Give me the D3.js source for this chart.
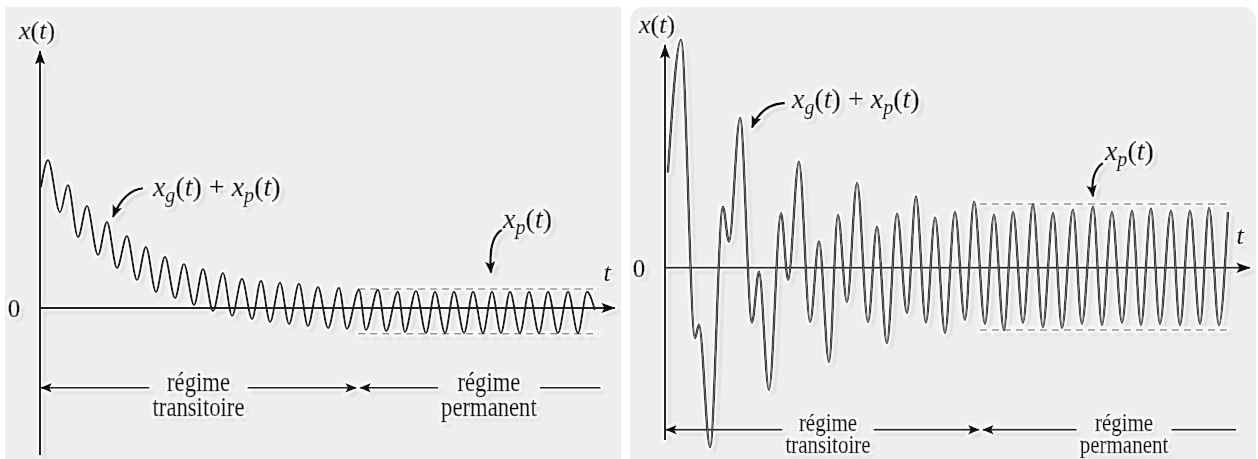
<!DOCTYPE html>
<html>
<head>
<meta charset="utf-8">
<script src="https://cdn.jsdelivr.net/npm/d3@7"></script>
<style>
  html, body { margin: 0; padding: 0; background: #fff; }
  svg { display: block; }
  svg text { font-family: 'Liberation Serif', 'DejaVu Serif', serif; stroke: #111; stroke-width: 0.45px; }
</style>
</head>
<body>
<svg id="chart" width="1258" height="459"></svg>
<script>
// extrema of the left curve (t in periods, x in steady-amplitude units)
const leftT = [0.05, 0.41, 1.03, 1.44, 1.96, 2.42, 2.99, 3.45, 3.97, 4.48, 5.00, 5.46, 5.98, 6.44, 6.96, 7.42,
  7.94, 8.40, 8.92, 9.43, 9.90, 10.41, 10.93, 11.39, 11.86, 12.37, 12.84, 13.35, 13.81, 14.33, 14.85, 15.41,
  15.82, 16.44, 16.80, 17.42, 17.84, 18.45, 18.81, 19.38, 19.90, 20.36, 20.88, 21.34, 21.86, 22.32, 22.84,
  23.30, 23.76, 24.23, 24.74, 25.21, 25.72, 26.19, 26.70, 27.22, 27.73, 28.20, 28.60]
const leftX = [5.50, 6.73, 4.36, 5.59, 3.23, 4.64, 2.41, 3.91, 1.82, 3.27, 1.27, 2.77, 0.73, 2.32, 0.45, 2.00,
  0.14, 1.77, -0.14, 1.59, -0.36, 1.32, -0.50, 1.23, -0.64, 1.14, -0.73, 1.09, -0.82, 0.95, -0.91, 0.91,
  -0.95, 0.82, -1.00, 0.82, -1.05, 0.73, -1.09, 0.77, -1.14, 0.73, -1.14, 0.73, -1.14, 0.73, -1.14,
  0.73, -1.14, 0.73, -1.14, 0.73, -1.14, 0.73, -1.14, 0.73, -1.14, 0.73, -0.10]

// extrema of the right curve
const rightT = [0.15, 0.82, 1.54, 1.74, 2.31, 2.97, 3.28, 3.85, 4.46, 4.82, 5.33, 5.95, 6.31, 6.87, 7.44,
  7.90, 8.41, 8.87, 9.33, 9.85, 10.41, 10.87, 11.38, 11.90, 12.41, 12.87, 13.38, 13.85, 14.36, 14.87,
  15.38, 15.85, 16.41, 16.87, 17.38, 17.85, 18.36, 18.87, 19.38, 19.90, 20.36, 20.92, 21.38, 21.95, 22.41,
  22.92, 23.44, 23.95, 24.41, 24.92, 25.38, 25.95, 26.41, 26.92, 27.44, 27.90, 28.41, 28.87]
const rightX = [1.67, 4.00, -1.23, -1.00, -3.14, 1.07, 0.46, 2.63, -0.96, -0.07, -2.14, 0.96, -0.21, 1.86, -0.95,
  0.46, -1.65, 0.93, -0.60, 1.49, -0.95, 0.72, -1.32, 0.95, -0.79, 1.25, -0.96, 0.88, -1.14, 0.98,
  -0.91, 1.16, -0.98, 0.93, -1.09, 0.98, -0.96, 1.11, -1.04, 0.96, -1.05, 1.02, -0.98, 1.07, -1.00,
  0.98, -0.96, 1.00, -1.00, 1.04, -0.98, 1.00, -1.00, 1.00, -0.98, 1.05, -1.00, 0.98]

// steady-state envelope (dashed lines): [upper, lower], span [t0, t1]
const leftEnvelope = [0.86, -1.18]
const leftEnvelopeSpan = [16.4, 28.8]
const rightEnvelope = [1.12, -1.09]
const rightEnvelopeSpan = [16.15, 28.97]

// regime bar: level, divider, end, text centres
const leftRegime = [-3.64, 16.4, 28.9, 8.17, 23.14]
const rightRegime = [-2.84, 16.2, 29.3, 8.36, 23.54]
const regimeWords = [['régime', 'transitoire'], ['régime', 'permanent']]

// annotations: label start [t, x], arrow [start, control, tip]
const leftSumLabel = [5.82, 5.09]
const leftSumArrow = [[5.31, 5.45], [4.33, 5.36], [3.76, 4.14]]
const leftPartLabel = [23.87, 3.64]
const leftPartArrow = [[23.81, 3.55], [23.09, 3.18], [23.25, 1.59]]
const rightSumLabel = [6.51, 2.81]
const rightSumArrow = [[6.15, 2.89], [4.97, 2.88], [4.46, 2.46]]
const rightPartLabel = [22.56, 1.89]
const rightPartArrow = [[22.46, 1.84], [21.79, 1.68], [21.95, 1.25]]

const sumParts = [['x', 1], ['g', 2], ['(', 0], ['t', 1], [')', 0], [' + ', 0], ['x', 1], ['p', 2], ['(', 0], ['t', 1], [')', 0]]
const partParts = [['x', 1], ['p', 2], ['(', 0], ['t', 1], [')', 0]]
const axisParts = [['x', 1], ['(', 0], ['t', 1], [')', 0]]

const svg = d3.select('#chart')
const defs = svg.append('defs')

// white halo + soft drop shadow, as in the scanned figure
const glow = defs.append('filter').attr('id', 'glow')
  .attr('x', '-10%').attr('y', '-10%').attr('width', '120%').attr('height', '120%')
glow.append('feOffset').attr('in', 'SourceAlpha').attr('dx', 2.5).attr('dy', 2.5).attr('result', 'off')
glow.append('feGaussianBlur').attr('in', 'off').attr('stdDeviation', 1.6).attr('result', 'offb')
glow.append('feFlood').attr('flood-color', '#000').attr('flood-opacity', 0.35).attr('result', 'sc')
glow.append('feComposite').attr('in', 'sc').attr('in2', 'offb').attr('operator', 'in').attr('result', 'shadow')
glow.append('feMorphology').attr('in', 'SourceAlpha').attr('operator', 'dilate').attr('radius', 2).attr('result', 'dil')
glow.append('feGaussianBlur').attr('in', 'dil').attr('stdDeviation', 1).attr('result', 'dilb')
glow.append('feFlood').attr('flood-color', '#fff').attr('result', 'wc')
glow.append('feComposite').attr('in', 'wc').attr('in2', 'dilb').attr('operator', 'in').attr('result', 'halo')
const merge = glow.append('feMerge')
merge.append('feMergeNode').attr('in', 'shadow')
merge.append('feMergeNode').attr('in', 'halo')
merge.append('feMergeNode').attr('in', 'SourceGraphic')

function marker (id, w, h) {
  defs.append('marker').attr('id', id)
    .attr('markerUnits', 'userSpaceOnUse')
    .attr('viewBox', `0 0 ${w} ${h}`)
    .attr('markerWidth', w).attr('markerHeight', h)
    .attr('refX', w - 1).attr('refY', h / 2)
    .attr('orient', 'auto-start-reverse')
    .append('path')
    .attr('d', `M0,0 L${w},${h / 2} L0,${h} L${w * 0.22},${h / 2} Z`)
    .attr('fill', '#111')
}
marker('axisHead', 15, 11)
marker('barHead', 12, 10)
marker('noteHead', 13, 11)

// panel backgrounds
svg.append('rect').attr('x', 5).attr('y', 7).attr('width', 616).attr('height', 460).attr('fill', '#eeeeee')
svg.append('rect').attr('x', 630).attr('y', 7).attr('width', 626).attr('height', 470).attr('rx', 14).attr('fill', '#eeeeee')

function mathText (g, x, y, parts, size) {
  const txt = g.append('text').attr('x', x).attr('y', y)
    .attr('font-size', size).attr('fill', '#111')
  let shift = 0
  parts.forEach(([s, kind]) => {
    const target = kind === 2 ? 6 : 0
    const sp = txt.append('tspan').text(s)
      .attr('dy', target - shift)
      .attr('font-style', kind ? 'italic' : 'normal')
    if (kind === 2) sp.attr('font-size', size * 0.72)
    shift = target
  })
  txt.style('white-space', 'pre')
  return txt
}

function drawPanel (cfg) {
  const x = d3.scaleLinear().domain([0, cfg.tMax]).range(cfg.xRange)
  const y = d3.scaleLinear().domain(cfg.vDom).range(cfg.yRange)
  const g = svg.append('g').attr('filter', 'url(#glow)')

  // regime bar
  const [lv, tDiv, tEnd, c1, c2] = cfg.regime
  const by = y(lv)
  const words = []
  ;[c1, c2].forEach((c, i) => {
    const tg = g.append('g').attr('transform', `translate(${x(c)},${by}) scale(0.84,1)`)
    const w1 = tg.append('text').attr('y', cfg.line1).text(regimeWords[i][0])
    const w2 = tg.append('text').attr('y', cfg.line2).text(regimeWords[i][1])
    tg.selectAll('text').attr('text-anchor', 'middle')
      .attr('font-size', cfg.regimeSize).attr('fill', '#111')
    const half = Math.max(w1.node().getComputedTextLength(), w2.node().getComputedTextLength()) * 0.84 / 2 + 3
    words.push([x(c) - half, x(c) + half])
  })
  const seg = (a, b) => g.append('line').attr('x1', a).attr('x2', b).attr('y1', by).attr('y2', by)
    .attr('stroke', '#222').attr('stroke-width', 1.8)
  seg(x(0) + 1, words[0][0]).attr('marker-start', 'url(#barHead)')
  seg(words[0][1], x(tDiv) - 2).attr('marker-end', 'url(#barHead)')
  seg(x(tDiv) + 2, words[1][0]).attr('marker-start', 'url(#barHead)')
  seg(words[1][1], x(tEnd))

  // axes
  g.append('line').attr('x1', x(0)).attr('x2', x(0))
    .attr('y1', y(cfg.vDom[0])).attr('y2', y(cfg.vDom[1]))
    .attr('stroke', '#222').attr('stroke-width', 2).attr('marker-end', 'url(#axisHead)')
  g.append('line').attr('x1', x(0)).attr('x2', x(cfg.tMax))
    .attr('y1', y(0)).attr('y2', y(0))
    .attr('stroke', '#222').attr('stroke-width', 2).attr('marker-end', 'url(#axisHead)')

  // envelope
  cfg.env.forEach(v => {
    g.append('line').attr('x1', x(cfg.envSpan[0])).attr('x2', x(cfg.envSpan[1]))
      .attr('y1', y(v)).attr('y2', y(v))
      .attr('stroke', '#8a8a8a').attr('stroke-width', 1.5).attr('stroke-dasharray', '7,5')
  })

  // response curve
  const line = d3.line().x(d => x(d[0])).y(d => y(d[1])).curve(d3.curveMonotoneX)
  const pts = cfg.t.map((t, i) => [t, cfg.v[i]])
  g.append('path').attr('d', line(pts)).attr('fill', 'none')
    .attr('stroke', '#1a1a1a').attr('stroke-width', cfg.outer).attr('stroke-linejoin', 'round')
  if (cfg.inner) {
    g.append('path').attr('d', line(pts)).attr('fill', 'none')
      .attr('stroke', '#8c8c8c').attr('stroke-width', cfg.inner)
  }

  // labels
  const ax = mathText(g, x(0) + cfg.axisLabelDx, y(cfg.vDom[1]) - 12, axisParts, 26)
  ax.attr('text-anchor', 'middle')
  g.append('text').attr('x', x(0) - 26).attr('y', y(0) + 9).attr('text-anchor', 'middle')
    .attr('font-size', 25).attr('fill', '#111').text('0')
  g.append('text').attr('x', x(cfg.tMax) + cfg.tLabel[0]).attr('y', y(0) + cfg.tLabel[1])
    .attr('text-anchor', 'middle').attr('font-style', 'italic')
    .attr('font-size', 26).attr('fill', '#111').text('t')

  mathText(g, x(cfg.sumLabel[0]), y(cfg.sumLabel[1]), sumParts, 28)
  mathText(g, x(cfg.partLabel[0]), y(cfg.partLabel[1]), partParts, 28)

  ;[cfg.sumArrow, cfg.partArrow].forEach(a => {
    const p = d3.path()
    p.moveTo(x(a[0][0]), y(a[0][1]))
    p.quadraticCurveTo(x(a[1][0]), y(a[1][1]), x(a[2][0]), y(a[2][1]))
    g.append('path').attr('d', p.toString()).attr('fill', 'none')
      .attr('stroke', '#111').attr('stroke-width', 2.6).attr('marker-end', 'url(#noteHead)')
  })
}

drawPanel({
  tMax: 29.64, xRange: [40, 615], vDom: [-6.7, 11.7], yRange: [455, 51],
  t: leftT, v: leftX, outer: 2.2, inner: 0,
  env: leftEnvelope, envSpan: leftEnvelopeSpan, regime: leftRegime,
  regimeSize: 27, line1: 3, line2: 28,
  sumLabel: leftSumLabel, sumArrow: leftSumArrow, partLabel: leftPartLabel, partArrow: leftPartArrow,
  axisLabelDx: -3, tLabel: [-8, -27]
})

drawPanel({
  tMax: 30, xRange: [665, 1250], vDom: [-3.02, 3.91], yRange: [440, 45],
  t: rightT, v: rightX, outer: 2.6, inner: 0.8,
  env: rightEnvelope, envSpan: rightEnvelopeSpan, regime: rightRegime,
  regimeSize: 25, line1: 1, line2: 23,
  sumLabel: rightSumLabel, sumArrow: rightSumArrow, partLabel: rightPartLabel, partArrow: rightPartArrow,
  axisLabelDx: -8, tLabel: [-10, -24]
})
</script>
</body>
</html>
